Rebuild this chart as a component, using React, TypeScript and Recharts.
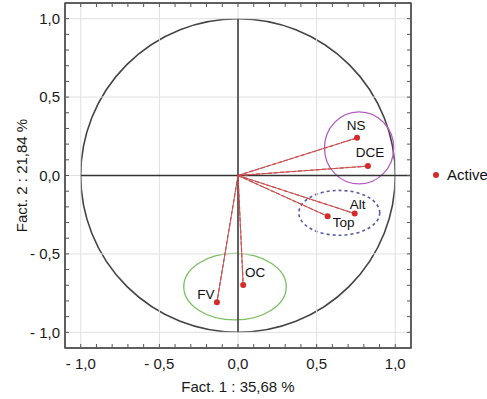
import React from "react";
import {
  ScatterChart,
  Scatter,
  XAxis,
  YAxis,
  ReferenceLine,
  ReferenceArea,
  Legend,
} from "recharts";

// variable loadings on the first two factors
const VARIABLES = ["NS", "DCE", "Alt", "Top", "FV", "OC"];
const FACT1 = [0.757, 0.826, 0.742, 0.57, -0.134, 0.033];
const FACT2 = [0.24, 0.06, -0.243, -0.26, -0.808, -0.698];

// groups circled on the plot: [x1, x2] and [y1, y2] bounds
const GROUP_NAMES = ["NS-DCE", "Alt-Top", "FV-OC"];
const GROUP_X = [
  [0.55, 0.99],
  [0.387, 0.901],
  [-0.345, 0.307],
];
const GROUP_Y = [
  [-0.054, 0.406],
  [-0.381, -0.095],
  [-0.921, -0.497],
];

const MAJOR_TICKS = [-1, -0.5, 0, 0.5, 1];
const MINOR_TICKS = [
  -1, -0.9, -0.8, -0.7, -0.6, -0.5, -0.4, -0.3, -0.2, -0.1, 0, 0.1, 0.2, 0.3,
  0.4, 0.5, 0.6, 0.7, 0.8, 0.9, 1,
];
const DOMAIN: [number, number] = [-1.1, 1.1];

const X_TITLE = "Fact. 1 : 35,68 %";
const Y_TITLE = "Fact. 2 : 21,84 %";

const FONT = "'Liberation Sans', Arial, sans-serif";
const FRAME = "#555";
const RED = "#d42a2a";
const GROUP_STYLES = [
  { stroke: "#b45cc4", dash: undefined },
  { stroke: "#5a5aa8", dash: "3 3" },
  { stroke: "#7cc062", dash: undefined },
];
const LABEL_OFFSET: Record<string, [number, number]> = {
  NS: [-1, -12],
  DCE: [2, -14],
  Alt: [3, -9],
  Top: [16, 6],
  FV: [-11, -8],
  OC: [12, -12],
};

const points = VARIABLES.map((name, i) => ({ name, x: FACT1[i], y: FACT2[i] }));

const fmt = (v: number) => {
  const major = MAJOR_TICKS.some((m) => Math.abs(m - v) < 1e-6);
  if (!major) return "";
  return (v < 0 ? "- " : "") + Math.abs(v).toFixed(1).replace(".", ",");
};

const ellipse =
  (stroke: string, width: number, dash?: string) => (props: any) => {
    const { x, y, width: w, height: h } = props;
    return (
      <ellipse
        cx={x + w / 2}
        cy={y + h / 2}
        rx={w / 2}
        ry={h / 2}
        fill="none"
        stroke={stroke}
        strokeWidth={width}
        strokeDasharray={dash}
      />
    );
  };

const PointShape = (props: any) => {
  const { cx, cy, payload } = props;
  const [dx, dy] = LABEL_OFFSET[payload.name] || [0, -10];
  return (
    <g>
      <circle cx={cx} cy={cy} r={3} fill={RED} />
      <text
        x={cx + dx}
        y={cy + dy}
        textAnchor="middle"
        dominantBaseline="central"
        fontSize={13.5}
        fontFamily={FONT}
        fill="#111"
      >
        {payload.name}
      </text>
    </g>
  );
};

const tickStyle = { fontSize: 15, fill: "#1a1a1a", fontFamily: FONT };

const App = () => {
  return (
    <div style={{ position: "absolute", left: 0, top: 0, fontFamily: FONT }}>
      <ScatterChart
        width={487}
        height={399}
        margin={{ top: 2, right: 75, bottom: 0, left: 0 }}
      >
        <XAxis
          xAxisId={0}
          type="number"
          dataKey="x"
          domain={DOMAIN}
          ticks={MINOR_TICKS}
          interval={0}
          tickFormatter={fmt}
          tickSize={-4}
          tickMargin={14}
          height={51}
          axisLine={{ stroke: FRAME, strokeWidth: 1.5 }}
          tickLine={{ stroke: FRAME }}
          tick={tickStyle}
          label={{
            content: ({ viewBox }: any) => (
              <text
                x={viewBox.x + viewBox.width / 2}
                y={viewBox.y + 38}
                textAnchor="middle"
                dominantBaseline="central"
                fontSize={15}
                fontFamily={FONT}
                fill="#1a1a1a"
              >
                {X_TITLE}
              </text>
            ),
          }}
        />
        <XAxis
          xAxisId="top"
          orientation="top"
          type="number"
          dataKey="x"
          domain={DOMAIN}
          ticks={MINOR_TICKS}
          interval={0}
          height={1}
          tickSize={-4}
          tickFormatter={() => ""}
          axisLine={{ stroke: FRAME, strokeWidth: 1.5 }}
          tickLine={{ stroke: FRAME }}
        />
        <YAxis
          yAxisId={0}
          type="number"
          dataKey="y"
          domain={DOMAIN}
          ticks={MINOR_TICKS}
          interval={0}
          tickFormatter={fmt}
          tickSize={-4}
          tickMargin={9}
          width={65}
          axisLine={{ stroke: FRAME, strokeWidth: 1.5 }}
          tickLine={{ stroke: FRAME }}
          tick={tickStyle}
          label={{
            content: ({ viewBox }: any) => {
              const cx = viewBox.x + 21;
              const cy = viewBox.y + viewBox.height / 2;
              return (
                <text
                  x={cx}
                  y={cy}
                  transform={`rotate(-90 ${cx} ${cy})`}
                  textAnchor="middle"
                  dominantBaseline="central"
                  fontSize={15}
                  fontFamily={FONT}
                  fill="#1a1a1a"
                >
                  {Y_TITLE}
                </text>
              );
            },
          }}
        />
        <YAxis
          yAxisId="right"
          orientation="right"
          type="number"
          dataKey="y"
          domain={DOMAIN}
          ticks={MINOR_TICKS}
          interval={0}
          width={1}
          tickSize={-4}
          tickFormatter={() => ""}
          axisLine={{ stroke: FRAME, strokeWidth: 1.5 }}
          tickLine={{ stroke: FRAME }}
        />

        {MAJOR_TICKS.map((v) => (
          <ReferenceLine key={`gx${v}`} x={v} stroke="#e0e0e0" />
        ))}
        {MAJOR_TICKS.map((v) => (
          <ReferenceLine key={`gy${v}`} y={v} stroke="#e0e0e0" />
        ))}

        {/* plot frame */}
        <ReferenceArea
          x1={DOMAIN[0]}
          x2={DOMAIN[1]}
          y1={DOMAIN[0]}
          y2={DOMAIN[1]}
          fill="none"
          fillOpacity={0}
          stroke={FRAME}
          strokeWidth={1.5}
        />

        {/* unit correlation circle */}
        <ReferenceArea
          x1={-1}
          x2={1}
          y1={-1}
          y2={1}
          shape={ellipse("#444", 1.6)}
        />
        <ReferenceLine
          segment={[
            { x: 0, y: -1 },
            { x: 0, y: 1 },
          ]}
          stroke="#333"
          strokeWidth={1.5}
        />
        <ReferenceLine
          segment={[
            { x: -1, y: 0 },
            { x: 1.1, y: 0 },
          ]}
          stroke="#333"
          strokeWidth={1.5}
        />

        {GROUP_NAMES.map((g, i) => (
          <ReferenceArea
            key={g}
            x1={GROUP_X[i][0]}
            x2={GROUP_X[i][1]}
            y1={GROUP_Y[i][0]}
            y2={GROUP_Y[i][1]}
            shape={ellipse(
              GROUP_STYLES[i].stroke,
              GROUP_STYLES[i].dash ? 1.6 : 1.3,
              GROUP_STYLES[i].dash
            )}
          />
        ))}

        {points.map((p) => (
          <ReferenceLine
            key={`s${p.name}`}
            segment={[
              { x: 0, y: 0 },
              { x: p.x, y: p.y },
            ]}
            stroke="#9a3434"
            strokeWidth={0.8}
          />
        ))}
        {points.map((p) => (
          <ReferenceLine
            key={`d${p.name}`}
            segment={[
              { x: 0, y: 0 },
              { x: p.x, y: p.y },
            ]}
            stroke="#d84a4a"
            strokeWidth={1.2}
            strokeDasharray="4 2"
          />
        ))}

        {/* invisible series so the top and right frame axes are drawn */}
        <Scatter
          xAxisId="top"
          yAxisId="right"
          data={points}
          legendType="none"
          shape={() => null}
          isAnimationActive={false}
        />
        <Scatter
          name="Active"
          data={points}
          fill={RED}
          shape={PointShape}
          isAnimationActive={false}
        />
        <Legend
          layout="vertical"
          align="center"
          verticalAlign="middle"
          wrapperStyle={{ left: 433, top: 166, width: 60 }}
          content={({ payload }: any) => (
            <ul style={{ listStyle: "none", margin: 0, padding: 0 }}>
              {(payload || [])
                .filter((entry: any) => entry.value === "Active")
                .map((entry: any, i: number) => (
                  <li
                    key={`item-${i}`}
                    style={{
                      display: "flex",
                      alignItems: "center",
                      fontSize: 15,
                      fontFamily: FONT,
                      color: "#111",
                      whiteSpace: "nowrap",
                    }}
                  >
                    <span
                      style={{
                        width: 6,
                        height: 6,
                        borderRadius: "50%",
                        backgroundColor: RED,
                        display: "inline-block",
                        marginRight: 8,
                      }}
                    ></span>
                    {entry.value}
                  </li>
                ))}
            </ul>
          )}
        />
      </ScatterChart>
    </div>
  );
};

export default App;
